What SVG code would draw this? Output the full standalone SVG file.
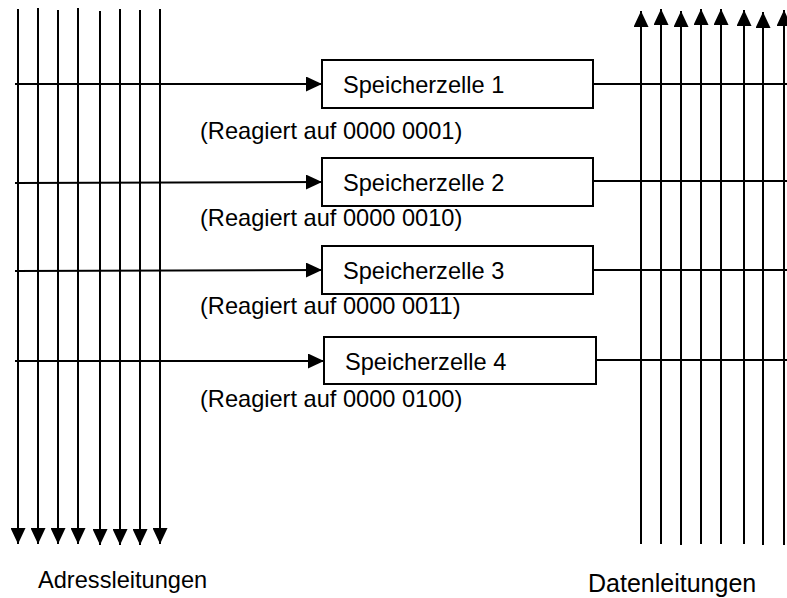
<svg xmlns="http://www.w3.org/2000/svg" width="787" height="598" viewBox="0 0 787 598">
  <defs>
    <marker id="arr" markerUnits="userSpaceOnUse" markerWidth="16" markerHeight="15" refX="16" refY="7.5" orient="auto">
      <path d="M0,0 L16,7.5 L0,15 z" fill="#000"/>
    </marker>
  </defs>
  <style>
    .ln { stroke:#000; stroke-width:2; fill:none; }
    .box { stroke:#000; stroke-width:2; fill:#fff; }
    .t { font-family:"Liberation Sans", Arial, sans-serif; font-size:23.6px; fill:#000; }
    .lbl { font-family:"Liberation Sans", Arial, sans-serif; font-size:23.6px; fill:#000; }
    .lbl2 { font-family:"Liberation Sans", Arial, sans-serif; font-size:25px; fill:#000; }
  </style>
  <rect width="787" height="598" fill="#fff"/>
  <g id="connectors">
    <line class="ln" x1="18" y1="9" x2="18" y2="544" marker-end="url(#arr)"/>
    <line class="ln" x1="38" y1="8" x2="38" y2="544" marker-end="url(#arr)"/>
    <line class="ln" x1="58" y1="10" x2="58" y2="544" marker-end="url(#arr)"/>
    <line class="ln" x1="78" y1="8" x2="78" y2="544" marker-end="url(#arr)"/>
    <line class="ln" x1="100" y1="11" x2="100" y2="545" marker-end="url(#arr)"/>
    <line class="ln" x1="120" y1="9" x2="120" y2="545" marker-end="url(#arr)"/>
    <line class="ln" x1="140" y1="10" x2="140" y2="545" marker-end="url(#arr)"/>
    <line class="ln" x1="160" y1="9" x2="160" y2="544" marker-end="url(#arr)"/>
    <line class="ln" x1="641" y1="544" x2="641" y2="11" marker-end="url(#arr)"/>
    <line class="ln" x1="661" y1="544" x2="661" y2="9" marker-end="url(#arr)"/>
    <line class="ln" x1="681" y1="545" x2="681" y2="11" marker-end="url(#arr)"/>
    <line class="ln" x1="701" y1="544" x2="701" y2="9" marker-end="url(#arr)"/>
    <line class="ln" x1="721" y1="544" x2="721" y2="9" marker-end="url(#arr)"/>
    <line class="ln" x1="744" y1="544" x2="744" y2="10" marker-end="url(#arr)"/>
    <line class="ln" x1="763" y1="545" x2="763" y2="12" marker-end="url(#arr)"/>
    <line class="ln" x1="784" y1="545" x2="784" y2="10" marker-end="url(#arr)"/>
    <line class="ln" x1="15" y1="84" x2="322" y2="84" marker-end="url(#arr)"/>
    <line class="ln" x1="593" y1="84" x2="787" y2="84"/>
    <line class="ln" x1="15" y1="183" x2="322" y2="182" marker-end="url(#arr)"/>
    <line class="ln" x1="593" y1="181" x2="787" y2="181"/>
    <line class="ln" x1="15" y1="271" x2="322" y2="270" marker-end="url(#arr)"/>
    <line class="ln" x1="593" y1="270" x2="787" y2="270"/>
    <line class="ln" x1="15" y1="361" x2="324" y2="361" marker-end="url(#arr)"/>
    <line class="ln" x1="596" y1="360" x2="787" y2="360"/>
  </g>
  <g id="cell1">
    <rect class="box" x="322" y="60" width="271" height="48"/>
    <text class="t" x="343" y="93">Speicherzelle 1</text>
  </g>
  <text class="t" x="200" y="139">(Reagiert auf 0000 0001)</text>
  <g id="cell2">
    <rect class="box" x="322" y="158" width="271" height="48"/>
    <text class="t" x="343" y="191">Speicherzelle 2</text>
  </g>
  <text class="t" x="200" y="226">(Reagiert auf 0000 0010)</text>
  <g id="cell3">
    <rect class="box" x="322" y="246" width="271" height="48"/>
    <text class="t" x="343" y="279">Speicherzelle 3</text>
  </g>
  <text class="t" x="200" y="314">(Reagiert auf 0000 0011)</text>
  <g id="cell4">
    <rect class="box" x="324" y="337" width="272" height="47"/>
    <text class="t" x="345" y="370">Speicherzelle 4</text>
  </g>
  <text class="t" x="200" y="407">(Reagiert auf 0000 0100)</text>
  <text class="lbl" x="38" y="588">Adressleitungen</text>
  <text class="lbl2" x="588" y="592">Datenleitungen</text>
</svg>
